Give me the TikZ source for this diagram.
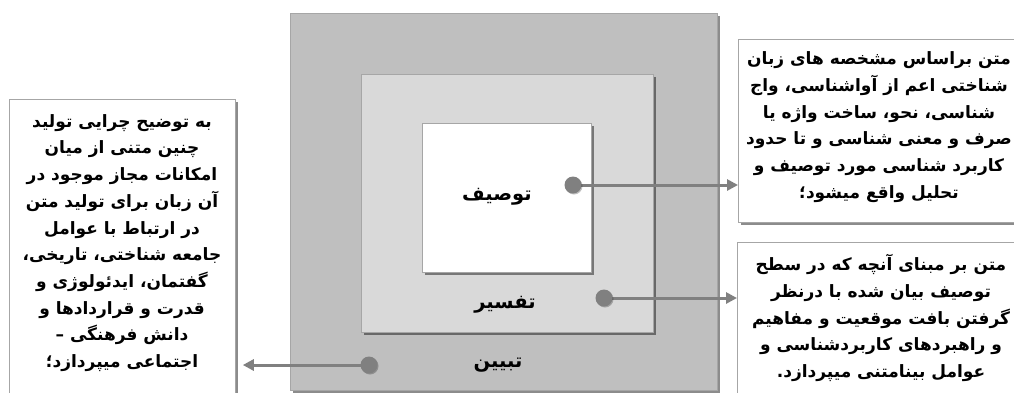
\documentclass[tikz,border=0pt]{standalone}
\usepackage{fontspec}
\newfontfamily\fa[Script=Arabic]{DejaVu Sans}
\TeXXeTstate=1
\usetikzlibrary{shadows,arrows.meta}
\definecolor{outerg}{HTML}{BFBFBF}
\definecolor{midg}{HTML}{D9D9D9}
\definecolor{lineg}{HTML}{808080}
\definecolor{bordg}{HTML}{A6A6A6}
\tikzset{
  shad/.style={drop shadow={shadow xshift=2.5pt,shadow yshift=-2.5pt,opacity=0.45,fill=black}},
  layer/.style={shad,draw=bordg,line width=0.6pt,anchor=north west,inner sep=0pt},
  sidebox/.style={shad,draw=bordg,fill=white,line width=0.8pt,anchor=north west,inner sep=0pt},
  txt/.style={align=center,font=\fa\bfseries\fontsize{17}{26.7}\selectfont,inner sep=0pt},
  lbl/.style={font=\fa\bfseries\fontsize{19.5}{22}\selectfont,inner sep=0pt},
  dot/.style={circle,fill=lineg,minimum size=17pt,inner sep=0pt,drop shadow={shadow xshift=1pt,shadow yshift=-1pt,opacity=0.25,fill=black}},
  conn/.style={draw=lineg,line width=3pt,-{Triangle[length=11pt,width=11pt]}}
}
\begin{document}
\begin{tikzpicture}[x=1pt,y=-1pt]
\useasboundingbox[fill=white] (0,0) rectangle (1014,392);
% nested layers
\node[layer,fill=outerg,minimum width=427pt,minimum height=377pt] (outer) at (290,13) {};
\node[layer,fill=midg,minimum width=292pt,minimum height=258pt] (mid) at (361,74) {};
\node[layer,fill=white,minimum width=169pt,minimum height=149pt] (inner) at (422,123) {};
\node[lbl] (ltawsif) at (497,197) {\beginR توصیف\endR};
\node[lbl] (ltafsir) at (505,305) {\beginR تفسیر\endR};
\node[lbl] (ltabyin) at (498,365) {\beginR تبیین\endR};
% side boxes
\node[sidebox,minimum width=226pt,minimum height=300pt] (lt) at (9,99) {};
\node[sidebox,minimum width=290pt,minimum height=183pt] (t1) at (738,39) {};
\node[sidebox,minimum width=290pt,minimum height=160pt] (t2) at (737,242) {};
% texts
\node[txt] (lttext) at (122,243) {%
\beginR به توضیح چرایی تولید\endR\\
\beginR چنین متنی از میان\endR\\
\beginR امکانات مجاز موجود در\endR\\
\beginR آن زبان برای تولید متن\endR\\
\beginR در ارتباط با عوامل\endR\\
\beginR جامعه شناختی، تاریخی،\endR\\
\beginR گفتمان، ایدئولوژی و\endR\\
\beginR قدرت و قراردادها و\endR\\
\beginR دانش فرهنگی –\endR\\
\beginR اجتماعی میپردازد؛\endR};
\node[txt] (t1text) at (879,127) {%
\beginR متن براساس مشخصه های زبان\endR\\
\beginR شناختی اعم از آواشناسی، واج\endR\\
\beginR شناسی، نحو، ساخت واژه یا\endR\\
\beginR صرف و معنی شناسی و تا حدود\endR\\
\beginR کاربرد شناسی مورد توصیف و\endR\\
\beginR تحلیل واقع میشود؛\endR};
\node[txt] (t2text) at (881,318) {%
\beginR متن بر مبنای آنچه که در سطح\endR\\
\beginR توصیف بیان شده با درنظر\endR\\
\beginR گرفتن بافت موقعیت و مفاهیم\endR\\
\beginR و راهبردهای کاربردشناسی و\endR\\
\beginR عوامل بینامتنی میپردازد.\endR};
% dots and connectors
\coordinate (d1) at (573,185);
\coordinate (d2) at (604,298);
\coordinate (d3) at (369,365);
\draw[conn] (d1) -- (d1 -| t1.west);
\draw[conn] (d2) -- (d2 -| t2.west);
\draw[conn,shorten >=7pt] (d3) -- (d3 -| lt.east);
\node[dot] (dot1) at (d1) {};
\node[dot] (dot2) at (d2) {};
\node[dot] (dot3) at (d3) {};
\end{tikzpicture}
\end{document}
